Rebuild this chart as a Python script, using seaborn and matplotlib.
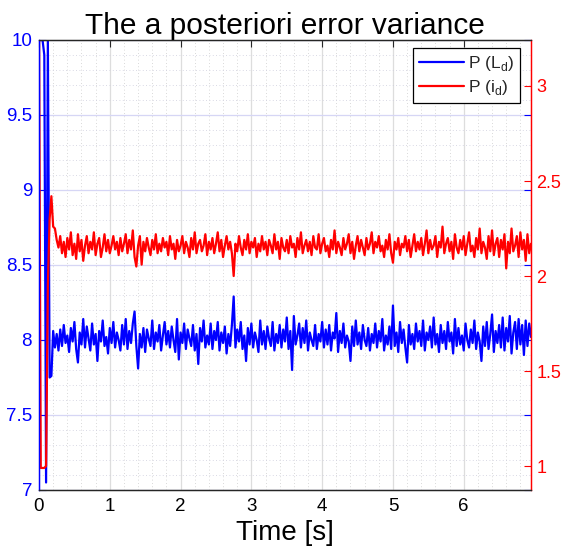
import numpy as np
import pandas as pd
import matplotlib
matplotlib.use("Agg")
import matplotlib.pyplot as plt
from matplotlib.ticker import MultipleLocator, FuncFormatter
from matplotlib.lines import Line2D
import seaborn as sns

# ---------------- data ----------------
time_s = np.round(np.arange(0, 6.951, 0.025), 3)

p_Ld = [
    10.0, 10.0, 10.0, 9.9, 7.05, 10.0, 7.75, 7.76, 8.06, 7.95,
    8.04, 7.93, 8.07, 7.96, 8.10, 7.98, 8.03, 7.92, 8.08, 7.99,
    8.12, 7.94, 7.85, 8.05, 7.97, 8.14, 7.95, 8.09, 8.01, 7.93,
    8.11, 7.97, 8.04, 7.86, 8.06, 7.99, 8.13, 7.96, 8.02, 7.91,
    8.08, 7.98, 8.12, 7.95, 8.05, 8.00, 7.93, 8.10, 7.97, 8.14,
    7.94, 8.06, 7.98, 8.11, 8.19, 7.96, 7.81, 8.04, 7.95, 8.08,
    7.92, 8.07, 8.01, 7.96, 8.13, 7.94, 8.05, 7.99, 8.10, 7.93,
    8.03, 8.12, 7.97, 8.06, 7.95, 8.09, 8.00, 7.92, 8.14, 7.87,
    8.05, 7.98, 8.11, 7.94, 8.07, 8.01, 7.96, 8.10, 7.93, 8.04,
    7.84, 8.08, 7.99, 8.13, 7.95, 8.03, 7.97, 8.11, 7.94, 8.06,
    8.00, 8.12, 7.93, 8.05, 7.98, 8.09, 7.91, 8.04, 7.96, 8.10,
    8.29, 7.95, 8.07, 7.99, 8.12, 7.94, 8.03, 7.86, 8.08, 7.97,
    8.11, 7.95, 8.05, 8.00, 7.92, 8.13, 7.97, 8.06, 7.94, 8.09,
    8.01, 7.96, 8.12, 7.93, 8.04, 7.98, 8.10, 7.95, 8.07, 7.99,
    8.15, 7.94, 8.06, 7.80, 8.16, 7.97, 8.03, 8.11, 7.95, 8.08,
    7.98, 8.13, 7.93, 8.05, 8.00, 7.96, 8.10, 7.94, 8.04, 7.99,
    8.12, 7.95, 8.07, 7.97, 8.10, 7.93, 8.05, 8.01, 8.18, 7.92,
    8.06, 7.98, 8.11, 7.95, 8.03, 7.99, 7.86, 8.09, 7.96, 8.13,
    7.97, 8.05, 7.94, 8.10, 8.00, 7.96, 8.08, 7.93, 8.04, 7.98,
    8.11, 7.95, 8.06, 7.99, 8.14, 7.93, 8.03, 7.97, 8.09, 7.94,
    8.23, 7.96, 8.05, 7.92, 8.12, 7.98, 8.07, 7.95, 7.85, 8.10,
    7.97, 8.04, 7.94, 8.11, 7.99, 8.06, 7.96, 8.13, 7.93, 8.05,
    8.00, 8.09, 7.95, 8.15, 7.97, 8.04, 7.92, 8.10, 7.98, 8.06,
    7.94, 8.12, 7.99, 8.05, 7.91, 8.14, 7.96, 8.08, 7.97, 8.03,
    7.93, 8.11, 8.00, 7.95, 8.07, 7.98, 8.13, 7.94, 8.05, 7.99,
    7.86, 8.09, 7.96, 8.12, 7.94, 8.04, 8.17, 7.92, 8.06, 7.98,
    8.10, 7.95, 8.15, 7.93, 8.08, 7.99, 8.16, 7.91, 8.05, 8.12,
    7.94, 8.14, 7.97, 8.10, 7.90, 8.13, 7.96, 8.11, 8.02,
]

p_id = [
    3.30, 0.99, 0.99, 0.99, 1.00, 1.95, 2.30, 2.42, 2.26, 2.25, 2.19,
    2.15, 2.21, 2.12, 2.18, 2.10, 2.20, 2.14, 2.23, 2.11, 2.17,
    2.09, 2.22, 2.13, 2.19, 2.08, 2.16, 2.21, 2.12, 2.18, 2.14,
    2.23, 2.11, 2.17, 2.20, 2.10, 2.15, 2.22, 2.13, 2.19, 2.12,
    2.16, 2.21, 2.14, 2.18, 2.11, 2.20, 2.13, 2.17, 2.22, 2.12,
    2.19, 2.14, 2.24, 2.10, 2.05, 2.16, 2.21, 2.06, 2.18, 2.13,
    2.20, 2.15, 2.11, 2.19, 2.14, 2.22, 2.12, 2.17, 2.13, 2.20,
    2.15, 2.18, 2.11, 2.21, 2.14, 2.17, 2.09, 2.19, 2.13, 2.16,
    2.21, 2.12, 2.18, 2.15, 2.10, 2.20, 2.14, 2.23, 2.12, 2.17,
    2.19, 2.13, 2.16, 2.22, 2.11, 2.18, 2.14, 2.20, 2.12, 2.17,
    2.23, 2.13, 2.19, 2.10, 2.16, 2.21, 2.14, 2.18, 2.12, 2.00,
    2.17, 2.13, 2.21, 2.15, 2.11, 2.19, 2.14, 2.22, 2.12, 2.18,
    2.15, 2.20, 2.10, 2.17, 2.13, 2.21, 2.14, 2.18, 2.11, 2.19,
    2.16, 2.12, 2.22, 2.14, 2.18, 2.09, 2.20, 2.15, 2.13, 2.19,
    2.12, 2.21, 2.15, 2.17, 2.10, 2.20, 2.14, 2.23, 2.12, 2.16,
    2.19, 2.13, 2.18, 2.11, 2.21, 2.15, 2.14, 2.22, 2.12, 2.17,
    2.20, 2.13, 2.16, 2.10, 2.19, 2.14, 2.24, 2.12, 2.18, 2.15,
    2.11, 2.20, 2.14, 2.17, 2.22, 2.12, 2.18, 2.09, 2.16, 2.21,
    2.13, 2.19, 2.15, 2.11, 2.20, 2.14, 2.17, 2.23, 2.12, 2.18,
    2.15, 2.21, 2.13, 2.16, 2.10, 2.19, 2.14, 2.22, 2.12, 2.07,
    2.18, 2.14, 2.20, 2.11, 2.17, 2.15, 2.21, 2.13, 2.19, 2.10,
    2.16, 2.22, 2.13, 2.18, 2.14, 2.20, 2.11, 2.17, 2.24, 2.12,
    2.19, 2.14, 2.16, 2.21, 2.10, 2.18, 2.15, 2.26, 2.12, 2.17,
    2.20, 2.13, 2.18, 2.09, 2.22, 2.15, 2.12, 2.19, 2.14, 2.21,
    2.11, 2.17, 2.23, 2.13, 2.16, 2.10, 2.20, 2.14, 2.25, 2.12,
    2.18, 2.15, 2.09, 2.21, 2.13, 2.24, 2.11, 2.17, 2.20, 2.10,
    2.19, 2.14, 2.22, 2.04, 2.18, 2.12, 2.25, 2.13, 2.16, 2.21,
    2.10, 2.23, 2.14, 2.19, 2.08, 2.22, 2.12, 2.17,
]

series_labels = ["P (L$_\\mathregular{d}$)", "P (i$_\\mathregular{d}$)"]
x_ticks = [0, 1, 2, 3, 4, 5, 6]
left_ticks = [7, 7.5, 8, 8.5, 9, 9.5, 10]
right_ticks = [1, 1.5, 2, 2.5, 3]

df = pd.DataFrame({"t": time_s, "Ld": p_Ld, "id": p_id})

# ---------------- style ----------------
sns.set_theme(style="white")
plt.rcParams["font.family"] = ["Liberation Sans", "DejaVu Sans"]
plt.rcParams["mathtext.fontset"] = "custom"
plt.rcParams["mathtext.rm"] = "Liberation Sans"

BLUE = "#0000FF"
RED = "#FF0000"
DARK = "#262626"

fig = plt.figure(figsize=(5.63, 5.57), dpi=100)
ax = fig.add_axes([39 / 563, 1 - 490 / 557, 492 / 563, 450 / 557])
ax2 = ax.twinx()
ax.set_zorder(1)
ax2.set_zorder(2)
ax.patch.set_facecolor("white")
ax2.patch.set_visible(False)

sns.lineplot(data=df, x="t", y="Ld", ax=ax, color=BLUE, lw=1.6, estimator=None, sort=False)
sns.lineplot(data=df, x="t", y="id", ax=ax2, color=RED, lw=1.6, estimator=None, sort=False)

ax.set_xlim(0, 6.95)
ax.set_ylim(7, 10)
ax2.set_ylim(0.874, 3.242)

fmt = FuncFormatter(lambda v, p: f"{v:g}")
ax.set_xticks(x_ticks)
ax.set_yticks(left_ticks)
ax2.set_yticks(right_ticks)
for a in (ax.xaxis, ax.yaxis, ax2.yaxis):
    a.set_major_formatter(fmt)
ax.xaxis.set_minor_locator(MultipleLocator(0.2))
ax.yaxis.set_minor_locator(MultipleLocator(0.1))

# grids
ax.grid(False)
ax2.grid(False)
ax.xaxis.grid(True, which="major", color="#dddddd", lw=0.9)
ax.yaxis.grid(True, which="major", color="#d6d6f5", lw=0.9)
ax.xaxis.grid(True, which="minor", color="#cccccc", lw=0.6, ls=(0, (1, 3)))
ax.yaxis.grid(True, which="minor", color="#ccccdc", lw=0.6, ls=(0, (1, 3)))
ax.set_axisbelow(True)

# ticks
ax.tick_params(axis="x", which="major", direction="in", length=5, width=0.8,
               colors=DARK, labelsize=13.5, top=True, pad=6)
ax.tick_params(axis="x", which="major", labelcolor="black")
ax.tick_params(axis="y", which="major", direction="in", length=5, width=0.8,
               colors=BLUE, labelsize=13.5, right=True, pad=5)
ax.tick_params(which="minor", length=0)
ax2.tick_params(axis="y", which="major", direction="in", length=5, width=0.8,
                colors=RED, labelsize=13, pad=4)
ax2.tick_params(which="minor", length=0)

for a in (ax, ax2):
    a.spines["top"].set_color(DARK)
    a.spines["bottom"].set_color(DARK)
    a.spines["left"].set_color(BLUE)
    a.spines["right"].set_color(RED)
    for s in a.spines.values():
        s.set_linewidth(0.9)

ax.set_ylabel("")
ax2.set_ylabel("")
ax.set_xlabel("Time [s]", fontsize=20, color="black", labelpad=3)
ax.set_title("The a posteriori error variance", fontsize=21.5, color="black", pad=4)

handles = [Line2D([], [], color=BLUE, lw=1.6), Line2D([], [], color=RED, lw=1.6)]
leg = ax2.legend(handles, series_labels, loc="upper right",
                 bbox_to_anchor=(0.978, 0.982), borderaxespad=0,
                 fancybox=False, framealpha=1, edgecolor="black",
                 fontsize=12.5, handlelength=2.6, handletextpad=0.25,
                 borderpad=0.35, labelspacing=0.3)
leg.get_frame().set_linewidth(0.9)

fig.savefig("out.png", dpi=100)
